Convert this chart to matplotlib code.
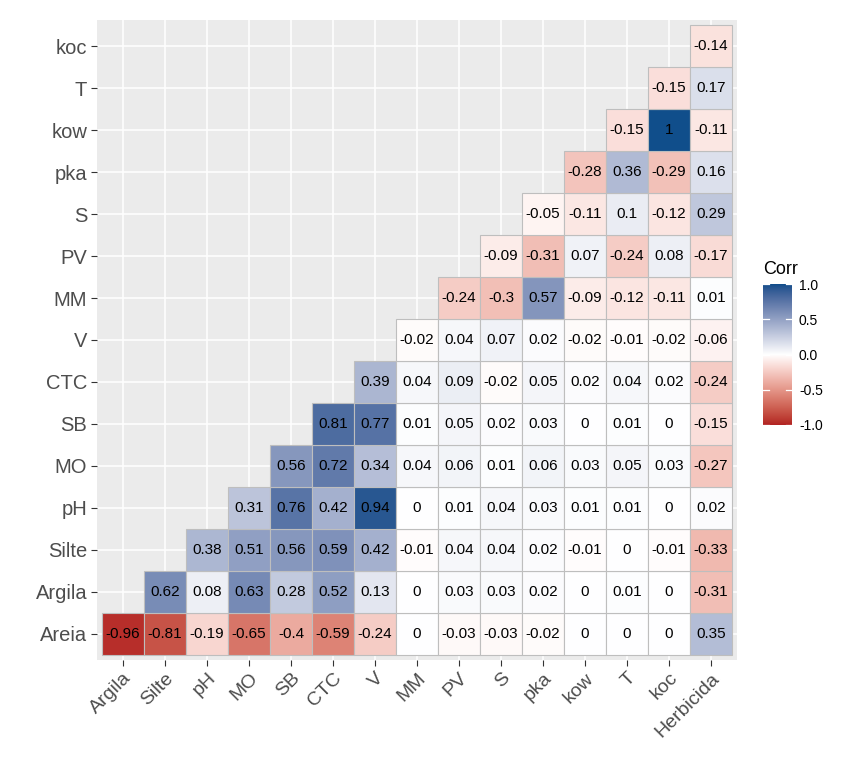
import numpy as np
import matplotlib
matplotlib.use("Agg")
import matplotlib.pyplot as plt
from matplotlib.colors import ListedColormap, Normalize, to_rgb
from matplotlib.patches import Rectangle

plt.rcParams['font.family'] = ['Liberation Sans', 'DejaVu Sans']

x_labels = ['Argila', 'Silte', 'pH', 'MO', 'SB', 'CTC', 'V', 'MM', 'PV', 'S',
            'pka', 'kow', 'T', 'koc', 'Herbicida']
y_labels = ['Areia', 'Argila', 'Silte', 'pH', 'MO', 'SB', 'CTC', 'V', 'MM',
            'PV', 'S', 'pka', 'kow', 'T', 'koc']

# each row starts at the column with the same index (lower triangle)
corr_rows = [
    [-0.96, -0.81, -0.19, -0.65, -0.4, -0.59, -0.24, 0, -0.03, -0.03, -0.02, 0, 0, 0, 0.35],
    [0.62, 0.08, 0.63, 0.28, 0.52, 0.13, 0, 0.03, 0.03, 0.02, 0, 0.01, 0, -0.31],
    [0.38, 0.51, 0.56, 0.59, 0.42, -0.01, 0.04, 0.04, 0.02, -0.01, 0, -0.01, -0.33],
    [0.31, 0.76, 0.42, 0.94, 0, 0.01, 0.04, 0.03, 0.01, 0.01, 0, 0.02],
    [0.56, 0.72, 0.34, 0.04, 0.06, 0.01, 0.06, 0.03, 0.05, 0.03, -0.27],
    [0.81, 0.77, 0.01, 0.05, 0.02, 0.03, 0, 0.01, 0, -0.15],
    [0.39, 0.04, 0.09, -0.02, 0.05, 0.02, 0.04, 0.02, -0.24],
    [-0.02, 0.04, 0.07, 0.02, -0.02, -0.01, -0.02, -0.06],
    [-0.24, -0.3, 0.57, -0.09, -0.12, -0.11, 0.01],
    [-0.09, -0.31, 0.07, -0.24, 0.08, -0.17],
    [-0.05, -0.11, 0.1, -0.12, 0.29],
    [-0.28, 0.36, -0.29, 0.16],
    [-0.15, 1, -0.11],
    [-0.15, 0.17],
    [-0.14],
]


def srgb_to_lab(c):
    c = np.asarray(c, dtype=float)
    lin = np.where(c <= 0.04045, c / 12.92, ((c + 0.055) / 1.055) ** 2.4)
    m = np.array([[0.4124, 0.3576, 0.1805],
                  [0.2126, 0.7152, 0.0722],
                  [0.0193, 0.1192, 0.9505]])
    xyz = m @ lin / np.array([0.95047, 1.0, 1.08883])
    f = np.where(xyz > 0.008856, np.cbrt(xyz), 7.787 * xyz + 16 / 116)
    return np.array([116 * f[1] - 16, 500 * (f[0] - f[1]), 200 * (f[1] - f[2])])


def lab_to_srgb(lab):
    L, a, b = lab
    fy = (L + 16) / 116
    fx = fy + a / 500
    fz = fy - b / 200
    f = np.array([fx, fy, fz])
    xyz = np.where(f ** 3 > 0.008856, f ** 3, (f - 16 / 116) / 7.787)
    xyz = xyz * np.array([0.95047, 1.0, 1.08883])
    minv = np.array([[3.2406, -1.5372, -0.4986],
                     [-0.9689, 1.8758, 0.0415],
                     [0.0557, -0.2040, 1.0570]])
    lin = minv @ xyz
    c = np.where(lin <= 0.0031308, 12.92 * lin, 1.055 * np.clip(lin, 0, None) ** (1 / 2.4) - 0.055)
    return np.clip(c, 0, 1)


# gradient2 style scale, interpolated in Lab like ggplot does
low = srgb_to_lab(to_rgb('#B22222'))
mid = srgb_to_lab(to_rgb('#FFFFFF'))
high = srgb_to_lab(to_rgb('#104E8B'))
cols = []
for t in np.linspace(-1, 1, 256):
    if t < 0:
        lab = mid + (low - mid) * (-t)
    else:
        lab = mid + (high - mid) * t
    cols.append(lab_to_srgb(lab))
cmap = ListedColormap(cols)
norm = Normalize(-1, 1)

fig = plt.figure(figsize=(8.45, 7.58), dpi=100)
ax = fig.add_axes([97 / 845, 98 / 758, 640 / 845, 640 / 758])
ax.set_facecolor('#EBEBEB')
n = len(x_labels)
ax.set_xlim(-0.62, n - 1 + 0.62)
ax.set_ylim(-0.62, n - 1 + 0.62)
for i in range(n):
    ax.axvline(i, color='white', lw=1.1, zorder=0)
    ax.axhline(i, color='white', lw=1.1, zorder=0)

for r, row in enumerate(corr_rows):
    for k, v in enumerate(row):
        c = r + k
        ax.add_patch(Rectangle((c - 0.5, r - 0.5), 1, 1, facecolor=cmap(norm(v)),
                               edgecolor='#BEBEBE', lw=0.8, zorder=2))
        ax.text(c, r, f"{v:g}", ha='center', va='center', fontsize=11,
                color='black', zorder=3)

ax.set_xticks(range(n))
ax.set_xticklabels(x_labels, rotation=45, ha='right', va='top',
                   rotation_mode='anchor', fontsize=14, color='#4D4D4D')
ax.set_yticks(range(n))
ax.set_yticklabels(y_labels, fontsize=14.5, color='#4D4D4D')
ax.tick_params(length=4, width=0.8, color='#333333', pad=3)
for s in ax.spines.values():
    s.set_visible(False)

# colour bar legend
cax = fig.add_axes([763 / 845, (758 - 426) / 758, 29 / 845, 143 / 758])
grad = np.linspace(-1, 1, 256).reshape(-1, 1)
cax.imshow(grad, cmap=cmap, norm=norm, aspect='auto', origin='lower',
           extent=[0, 1, -1, 1])
cax.set_xlim(0, 1)
cax.set_ylim(-1.02, 1.02)
for t in [-1, -0.5, 0, 0.5, 1]:
    cax.plot([0, 0.2], [t, t], color='white', lw=0.9)
    cax.plot([0.8, 1], [t, t], color='white', lw=0.9)
cax.set_xticks([])
cax.yaxis.tick_right()
cax.set_yticks([-1, -0.5, 0, 0.5, 1])
cax.set_yticklabels(['-1.0', '-0.5', '0.0', '0.5', '1.0'], fontsize=10, color='black')
cax.tick_params(length=0, pad=5)
for s in cax.spines.values():
    s.set_visible(False)
fig.text(763 / 845, (758 - 270) / 758, 'Corr', fontsize=13, ha='left', va='center')

fig.savefig('out.png', dpi=100)
